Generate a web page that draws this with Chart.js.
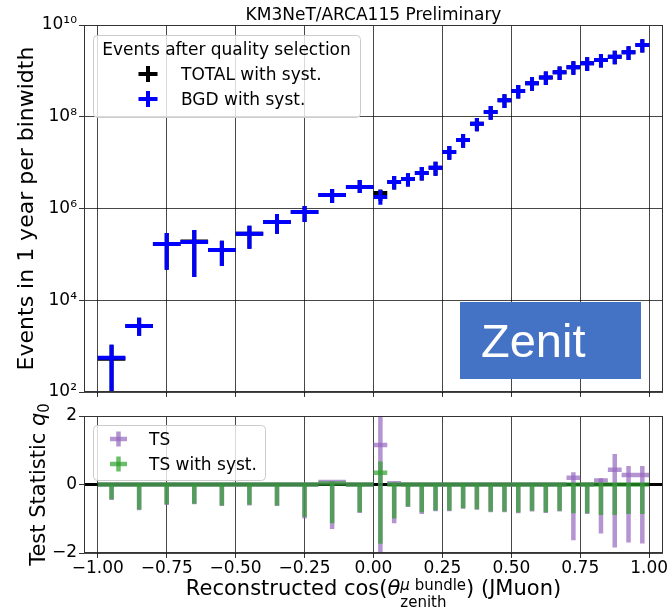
<!DOCTYPE html>
<html>
<head>
<meta charset="utf-8">
<script src="https://cdn.jsdelivr.net/npm/chart.js@4.4.1/dist/chart.umd.min.js"></script>
<style>
  body { margin: 0; width: 669px; height: 610px; background: #fff; position: relative; overflow: hidden; }
  #top { position: absolute; left: 0; top: 0; }
  #bot { position: absolute; left: 0; top: 400px; }
</style>
</head>
<body>
<canvas id="top" width="669" height="400"></canvas>
<canvas id="bot" width="669" height="210"></canvas>
<script>
// bins in reconstructed cos(zenith)
const binEdges = [-1.0, -0.9, -0.8, -0.7, -0.6, -0.5, -0.4, -0.3, -0.2, -0.1, 0.0,
  0.05, 0.1, 0.15, 0.2, 0.25, 0.3, 0.35, 0.4, 0.45, 0.5,
  0.55, 0.6, 0.65, 0.7, 0.75, 0.8, 0.85, 0.9, 0.95, 1.0];

// events in 1 year per binwidth
const bgdEvents = [556, 2760, 1.69e5, 1.87e5, 1.25e5, 2.8e5, 5.1e5, 8.4e5, 1.98e6, 2.96e6,
  1.79e6, 3.8e6, 4.4e6, 5.97e6, 7.7e6, 1.71e7, 3.1e7, 7.0e7, 1.27e8, 2.3e8,
  3.65e8, 5.4e8, 7.2e8, 9.3e8, 1.2e9, 1.47e9, 1.73e9, 2.04e9, 2.54e9, 3.66e9];
const bgdLow = [10, 1680, 4.6e4, 3.2e4, 5.6e4, 1.32e5, 2.8e5, 5.1e5, 1.32e6, 2.19e6,
  1.2e6, 2.6e6, 3.0e6, 4.1e6, 5.2e6, 1.16e7, 2.1e7, 4.8e7, 8.6e7, 1.56e8,
  2.5e8, 3.7e8, 4.9e8, 6.3e8, 8.2e8, 1.0e9, 1.18e9, 1.39e9, 1.73e9, 2.5e9];
const bgdHigh = [1070, 4140, 2.94e5, 3.4e5, 1.97e5, 4.2e5, 7.6e5, 1.14e6, 2.67e6, 4.2e6,
  2.54e6, 5.1e6, 5.9e6, 8.0e6, 1.04e7, 2.3e7, 4.2e7, 9.4e7, 1.71e8, 3.1e8,
  4.9e8, 7.3e8, 9.7e8, 1.25e9, 1.62e9, 1.98e9, 2.33e9, 2.75e9, 3.43e9, 4.9e9];
const totalEvents = [530, 2760, 1.69e5, 1.9e5, 1.25e5, 2.8e5, 5.1e5, 8.4e5, 1.98e6, 2.96e6,
  2.19e6, 3.8e6, 4.4e6, 5.97e6, 7.7e6, 1.71e7, 3.1e7, 7.0e7, 1.27e8, 2.3e8,
  3.65e8, 5.4e8, 7.2e8, 9.3e8, 1.2e9, 1.47e9, 1.73e9, 2.04e9, 2.54e9, 3.66e9];
const totalLow = [10, 1680, 4.6e4, 3.2e4, 5.6e4, 1.32e5, 2.8e5, 5.1e5, 1.32e6, 2.19e6,
  1.45e6, 2.6e6, 3.0e6, 4.1e6, 5.2e6, 1.16e7, 2.1e7, 4.8e7, 8.6e7, 1.56e8,
  2.5e8, 3.7e8, 4.9e8, 6.3e8, 8.2e8, 1.0e9, 1.18e9, 1.39e9, 1.73e9, 2.5e9];
const totalHigh = [1070, 4140, 2.94e5, 3.4e5, 1.97e5, 4.2e5, 7.6e5, 1.14e6, 2.67e6, 4.2e6,
  2.6e6, 5.1e6, 5.9e6, 8.0e6, 1.04e7, 2.3e7, 4.2e7, 9.4e7, 1.71e8, 3.1e8,
  4.9e8, 7.3e8, 9.7e8, 1.25e9, 1.62e9, 1.98e9, 2.33e9, 2.75e9, 3.43e9, 4.9e9];

// test statistic q0
const tsValues = [0, 0, 0, 0, 0, 0, 0, 0, 0.07, 0,
  1.15, 0.04, 0, 0, 0, 0, 0, 0, 0, 0,
  0, 0, 0, 0, 0.2, 0, 0.12, 0.43, 0.28, 0.28];
const tsLow = [-0.45, -0.75, -0.6, -0.58, -0.63, -0.61, -0.63, -0.99, -1.3, -0.83,
  -2.3, -1.13, -0.66, -0.86, -0.78, -0.78, -0.71, -0.74, -0.81, -0.81,
  -0.84, -0.79, -0.83, -0.79, -1.63, -0.86, -1.43, -1.84, -1.69, -1.72];
const tsHigh = [0, 0, 0, 0, 0, 0, 0, 0, 0.1, 0,
  2.3, 0.06, 0, 0, 0, 0, 0, 0, 0, 0,
  0, 0, 0, 0, 0.36, 0, 0.18, 0.89, 0.54, 0.54];
const tsSystValues = [0, 0, 0, 0, 0, 0, 0, 0, 0.03, 0,
  0.34, 0, 0, 0, 0, 0, 0, 0, 0, 0,
  0, 0, 0, 0, 0, 0, 0, 0, 0, 0];
const tsSystLow = [-0.43, -0.73, -0.58, -0.56, -0.61, -0.59, -0.61, -0.95, -1.13, -0.81,
  -1.73, -0.99, -0.64, -0.81, -0.76, -0.76, -0.69, -0.72, -0.79, -0.79,
  -0.82, -0.77, -0.81, -0.77, -0.84, -0.84, -0.89, -0.89, -0.86, -0.86];
const tsSystHigh = [0, 0, 0, 0, 0, 0, 0, 0, 0.03, 0,
  0.67, 0, 0, 0, 0, 0, 0, 0, 0, 0,
  0, 0, 0, 0, 0, 0, 0, 0, 0, 0];

// ticks
const xTicks = [-1, -0.75, -0.5, -0.25, 0, 0.25, 0.5, 0.75, 1];
const xTickLabels = ['\u22121.00', '\u22120.75', '\u22120.50', '\u22120.25', '0.00', '0.25', '0.50', '0.75', '1.00'];
const eventTicks = [1e2, 1e4, 1e6, 1e8, 1e10];
const eventTickLabels = ['10\u00b2', '10\u2074', '10\u2076', '10\u2078', '10\u00b9\u2070'];
const tsTicks = [-2, 0, 2];
const tsTickLabels = ['\u22122', '0', '2'];

const FONT = "'DejaVu Sans'";
const BLUE = '#0000ff';
const PURPLE = 'rgba(148,103,189,0.7)';
const GREEN = 'rgba(44,160,44,0.7)';

const centers = binEdges.slice(0, -1).map((e, i) => (e + binEdges[i + 1]) / 2);

function vBars(lo, hi) {
  const d = [];
  centers.forEach((x, i) => { d.push({x, y: lo[i]}, {x, y: hi[i]}, {x, y: null}); });
  return d;
}
function hBars(vals) {
  const d = [];
  vals.forEach((v, i) => { d.push({x: binEdges[i], y: v}, {x: binEdges[i + 1], y: v}, {x: binEdges[i + 1], y: null}); });
  return d;
}
function errSet(label, data, color, width, order) {
  return {label, data, borderColor: color, borderWidth: width, pointRadius: 0, pointHoverRadius: 0,
    fill: false, tension: 0, spanGaps: false, order, clip: 0};
}

function xScale(showLabels, height) {
  return {
    type: 'linear', min: -1.05, max: 1.05,
    afterBuildTicks: s => { s.ticks = xTicks.map(v => ({value: v})); },
    afterFit: s => { s.height = height; s.paddingLeft = 0; s.paddingRight = 0; },
    ticks: {display: showLabels, color: '#000', font: {family: FONT, size: 17}, padding: 0,
      maxRotation: 0, callback: v => xTickLabels[xTicks.indexOf(v)]},
    grid: {color: 'rgba(0,0,0,0.72)', lineWidth: 1, drawTicks: true, tickLength: 5, tickColor: '#333'},
    border: {display: false}
  };
}
function yGridScale(extra) {
  return Object.assign({
    afterFit: s => { s.width = 84; s.paddingTop = 0; s.paddingBottom = 0; },
    grid: {color: 'rgba(0,0,0,0.72)', lineWidth: 1, drawTicks: true, tickLength: 5, tickColor: '#333'},
    border: {display: false}
  }, extra);
}

function drawCross(ctx, x, y, hw, hh, color, lw) {
  ctx.strokeStyle = color; ctx.lineWidth = lw;
  ctx.beginPath(); ctx.moveTo(x - hw, y); ctx.lineTo(x + hw, y); ctx.stroke();
  ctx.beginPath(); ctx.moveTo(x, y - hh); ctx.lineTo(x, y + hh); ctx.stroke();
}
function legendBox(ctx, x, y, w, h) {
  ctx.save();
  ctx.fillStyle = 'rgba(255,255,255,0.8)';
  ctx.strokeStyle = '#cccccc'; ctx.lineWidth = 1;
  ctx.beginPath(); ctx.roundRect(x + 0.5, y + 0.5, w, h, 4); ctx.fill(); ctx.stroke();
  ctx.restore();
}
function frame(chart) {
  const {ctx, chartArea: a} = chart;
  ctx.save();
  ctx.strokeStyle = '#333'; ctx.lineWidth = 1;
  ctx.strokeRect(Math.round(a.left) + 0.5, Math.round(a.top) + 0.5, Math.round(a.width) - 1, Math.round(a.height) - 1);
  ctx.restore();
}
// draws a run of text pieces; a piece with sup/sub stacks both at the same x
function richText(ctx, pieces, x, y, align) {
  const widthOf = p => {
    if (p.stack) return Math.max(...p.stack.map(r => r.reduce((s, q) => { ctx.font = q.f; return s + ctx.measureText(q.t).width; }, 0)));
    ctx.font = p.f; return ctx.measureText(p.t).width;
  };
  const total = pieces.reduce((s, p) => s + widthOf(p), 0);
  let cx = align === 'center' ? x - total / 2 : x;
  ctx.textAlign = 'left'; ctx.textBaseline = 'alphabetic';
  pieces.forEach(p => {
    if (p.stack) {
      p.stack.forEach((row, k) => {
        let rx = cx;
        row.forEach(q => { ctx.font = q.f; ctx.fillText(q.t, rx, y + p.dy[k]); rx += ctx.measureText(q.t).width; });
      });
    } else {
      ctx.font = p.f; ctx.fillText(p.t, cx, y);
    }
    cx += widthOf(p);
  });
}

const topDeco = {
  id: 'topDeco',
  afterDatasetsDraw(chart) {
    const {ctx} = chart;
    frame(chart);
    ctx.save();
    legendBox(ctx, 93, 35, 267, 82);
    ctx.fillStyle = '#000';
    ctx.font = '17px ' + FONT; ctx.textAlign = 'center'; ctx.textBaseline = 'alphabetic';
    ctx.fillText('Events after quality selection', 226.5, 55);
    ctx.textAlign = 'left';
    drawCross(ctx, 148, 74, 9.5, 8, '#000', 4);
    ctx.fillText('TOTAL with syst.', 181, 80);
    drawCross(ctx, 148, 99, 9.5, 8, BLUE, 4);
    ctx.fillText('BGD with syst.', 181, 105);
    // pasted label
    ctx.fillStyle = '#4472c4';
    ctx.fillRect(460, 302, 181, 77);
    ctx.fillStyle = '#fff';
    ctx.font = "47px 'Liberation Sans'";
    ctx.fillText('Zenit', 481, 357);
    ctx.restore();
  },
  afterDraw(chart) {
    const {ctx, chartArea: a} = chart;
    ctx.save();
    ctx.fillStyle = '#000';
    ctx.font = '17px ' + FONT; ctx.textAlign = 'center'; ctx.textBaseline = 'alphabetic';
    ctx.fillText('KM3NeT/ARCA115 Preliminary', (a.left + a.right) / 2, 20);
    ctx.translate(33, (a.top + a.bottom) / 2);
    ctx.rotate(-Math.PI / 2);
    ctx.font = '22px ' + FONT;
    ctx.fillText('Events in 1 year per binwidth', 0, 0);
    ctx.restore();
  }
};

const botDeco = {
  id: 'botDeco',
  beforeDatasetsDraw(chart) {
    const {ctx, chartArea: a, scales} = chart;
    const y0 = scales.y.getPixelForValue(0);
    ctx.save();
    ctx.strokeStyle = '#000'; ctx.lineWidth = 3;
    ctx.beginPath(); ctx.moveTo(a.left, y0); ctx.lineTo(a.right, y0); ctx.stroke();
    ctx.restore();
  },
  afterDatasetsDraw(chart) {
    const {ctx} = chart;
    frame(chart);
    ctx.save();
    legendBox(ctx, 93, 25, 172, 55);
    ctx.fillStyle = '#000';
    ctx.font = '17px ' + FONT; ctx.textAlign = 'left'; ctx.textBaseline = 'alphabetic';
    drawCross(ctx, 118.5, 39, 8.5, 7.5, PURPLE, 4.5);
    ctx.fillText('TS', 149, 45);
    drawCross(ctx, 118.5, 64, 8.5, 7.5, GREEN, 4.5);
    ctx.fillText('TS with syst.', 149, 70);
    ctx.restore();
  },
  afterDraw(chart) {
    const {ctx, chartArea: a} = chart;
    ctx.save();
    ctx.fillStyle = '#000';
    const big = '21px ' + FONT, small = '15px ' + FONT;
    richText(ctx, [
      {t: 'Reconstructed cos(', f: big},
      {t: '\u03b8', f: 'italic ' + big},
      {stack: [[{t: '\u03bc', f: 'italic ' + small}, {t: ' bundle', f: small}], [{t: 'zenith', f: small}]], dy: [-5, 12]},
      {t: ') (JMuon)', f: big}
    ], (a.left + a.right) / 2, 195, 'center');
    ctx.translate(45, (a.top + a.bottom) / 2);
    ctx.rotate(-Math.PI / 2);
    richText(ctx, [
      {t: 'Test Statistic ', f: big},
      {t: 'q', f: 'italic ' + big},
      {stack: [[{t: '0', f: small}]], dy: [4]}
    ], 0, 0, 'center');
    ctx.restore();
  }
};

new Chart(document.getElementById('top'), {
  type: 'line',
  data: {
    datasets: [
      errSet('TOTAL with syst.', hBars(totalEvents), '#000', 4, 4),
      errSet('TOTAL with syst.', vBars(totalLow, totalHigh), '#000', 4, 3),
      errSet('BGD with syst.', hBars(bgdEvents), BLUE, 4, 2),
      errSet('BGD with syst.', vBars(bgdLow, bgdHigh), BLUE, 4, 1)
    ]
  },
  options: {
    responsive: false, animation: false, events: [],
    layout: {padding: {top: 25, right: 6, left: 0, bottom: 0}},
    plugins: {legend: {display: false}, tooltip: {enabled: false}},
    scales: {
      x: xScale(false, 8),
      y: yGridScale({
        type: 'logarithmic', min: 1e2, max: 1e10,
        afterBuildTicks: s => { s.ticks = eventTicks.map(v => ({value: v})); },
        ticks: {color: '#000', font: {family: FONT, size: 17}, padding: 2,
          callback: v => eventTickLabels[eventTicks.indexOf(v)]}
      })
    }
  },
  plugins: [topDeco]
});

new Chart(document.getElementById('bot'), {
  type: 'line',
  data: {
    datasets: [
      errSet('TS', hBars(tsValues), PURPLE, 4.5, 4),
      errSet('TS', vBars(tsLow, tsHigh), PURPLE, 4.5, 3),
      errSet('TS with syst.', hBars(tsSystValues), GREEN, 4.5, 2),
      errSet('TS with syst.', vBars(tsSystLow, tsSystHigh), GREEN, 4.5, 1)
    ]
  },
  options: {
    responsive: false, animation: false, events: [],
    layout: {padding: {top: 16, right: 6, left: 0, bottom: 0}},
    plugins: {legend: {display: false}, tooltip: {enabled: false}},
    scales: {
      x: xScale(true, 57),
      y: yGridScale({
        type: 'linear', min: -2, max: 2,
        afterBuildTicks: s => { s.ticks = tsTicks.map(v => ({value: v})); },
        ticks: {color: '#000', font: {family: FONT, size: 17}, padding: 2,
          callback: v => tsTickLabels[tsTicks.indexOf(v)]}
      })
    }
  },
  plugins: [botDeco]
});
</script>
</body>
</html>
